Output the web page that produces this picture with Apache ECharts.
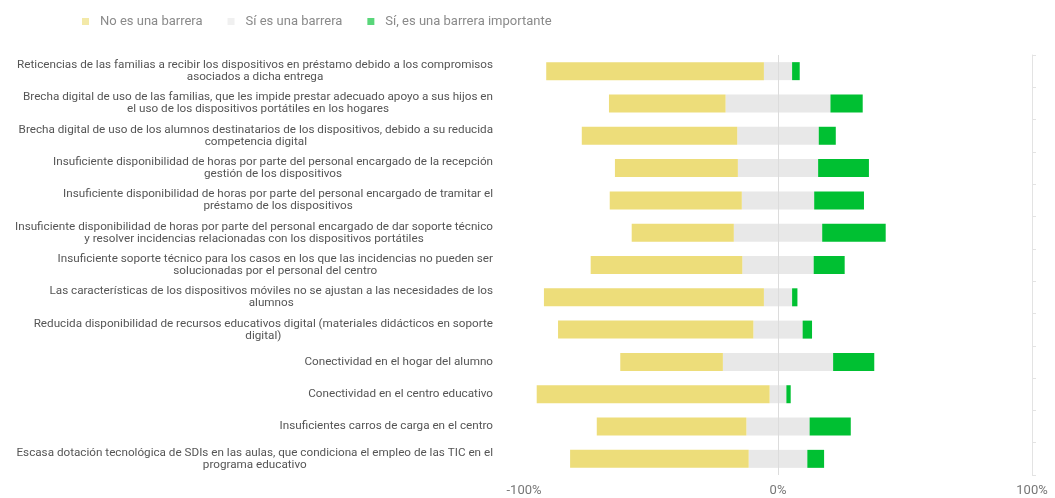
<!DOCTYPE html>
<html>
<head>
<meta charset="utf-8">
<script src="https://cdn.jsdelivr.net/npm/echarts@6/dist/echarts.min.js"></script>
<style>
html,body{margin:0;padding:0;background:#fff;}
#chart{width:1055px;height:498px;}
</style>
</head>
<body>
<div id="chart"></div>
<script>
const categories = [
  "Reticencias de las familias a recibir los dispositivos en préstamo debido a los compromisos\nasociados a dicha entrega",
  "Brecha digital de uso de las familias, que les impide prestar adecuado apoyo a sus hijos en\nel uso de los dispositivos portátiles en los hogares",
  "Brecha digital de uso de los alumnos destinatarios de los dispositivos, debido a su reducida\ncompetencia digital",
  "Insuficiente disponibilidad de horas por parte del personal encargado de la recepción\ngestión de los dispositivos",
  "Insuficiente disponibilidad de horas por parte del personal encargado de tramitar el\npréstamo de los dispositivos",
  "Insuficiente disponibilidad de horas por parte del personal encargado de dar soporte técnico\ny resolver incidencias relacionadas con los dispositivos portátiles",
  "Insuficiente soporte técnico para los casos en los que las incidencias no pueden ser\nsolucionadas por el personal del centro",
  "Las características de los dispositivos móviles no se ajustan a las necesidades de los\nalumnos",
  "Reducida disponibilidad de recursos educativos digital (materiales didácticos en soporte\ndigital)",
  "Conectividad en el hogar del alumno",
  "Conectividad en el centro educativo",
  "Insuficientes carros de carga en el centro",
  "Escasa dotación tecnológica de SDIs en las aulas, que condiciona el empleo de las TIC en el\nprograma educativo"
];
const noBarrera    = [85.7, 45.9, 61.2, 48.4, 52.0, 40.2, 59.7, 86.6, 76.9, 40.4, 91.7, 58.9, 70.3];
const siBarrera    = [11.1, 41.3, 32.1, 31.6, 28.5, 34.8, 28.1, 11.1, 19.4, 43.4, 6.6, 24.9, 23.1];
const siImportante = [3.0, 12.7, 6.7, 20.0, 19.6, 25.0, 12.2, 2.1, 3.7, 16.2, 1.7, 16.2, 6.6];
const xTicks = { min: -100, max: 100, interval: 100 };
const seriesNames = ["No es una barrera", "Sí es una barrera", "Sí, es una barrera importante"];
const colors = { no: "#EDDD7A", si: "#E8E8E8", imp: "#00C032" };

const chart = echarts.init(document.getElementById('chart'), null, { renderer: 'canvas' });
const barW = 18;
const common = { type: 'bar', stack: 'total', barWidth: barW, yAxisIndex: 0 };
const labelFont = 11.7;
const option = {
  animation: false,
  backgroundColor: '#fff',
  textStyle: { fontFamily: 'Roboto' },
  legend: {
    data: seriesNames,
    left: 77, top: 10,
    itemWidth: 7, itemHeight: 7, itemGap: 25,
    icon: 'rect',
    textStyle: { color: '#8a8a8a', fontSize: 13, fontFamily: 'Roboto', padding: [0, 0, 0, 6] },
    itemStyle: { opacity: 0.65 }
  },
  grid: { left: 524, right: 23, top: 55, bottom: 23, containLabel: false },
  xAxis: {
    type: 'value', min: xTicks.min, max: xTicks.max, interval: xTicks.interval,
    axisLine: { show: false }, axisTick: { show: false }, splitLine: { show: false },
    axisLabel: { formatter: '{value}%', color: '#777', fontSize: 13, margin: 9, fontFamily: 'Roboto' }
  },
  yAxis: [
    {
      type: 'category', data: categories, inverse: true,
      axisLine: { show: false }, axisTick: { show: false },
      axisLabel: {
        margin: 31, color: '#555', fontSize: labelFont, lineHeight: 12, fontFamily: 'Roboto',
        formatter: function (v) { return v.split('\n').map(function (l) { return '{c|' + l + '}'; }).join('\n'); },
        rich: { c: { align: 'center', color: '#555', fontSize: labelFont, lineHeight: 12, fontFamily: 'Roboto' } }
      }
    },
    {
      type: 'category', data: categories, inverse: true, position: 'right',
      axisLine: { show: true, lineStyle: { color: '#e3e3e3' } },
      axisTick: { show: true, length: 4, lineStyle: { color: '#e3e3e3' } },
      axisLabel: { show: false }
    }
  ],
  series: [
    Object.assign({}, common, {
      name: seriesNames[1], data: siBarrera.map(v => -v / 2),
      itemStyle: { color: colors.si },
      markLine: {
        silent: true, symbol: 'none', label: { show: false },
        lineStyle: { color: '#dcdcdc', type: 'solid', width: 1 },
        data: [{ xAxis: 0 }]
      }
    }),
    Object.assign({}, common, {
      name: seriesNames[1], data: siBarrera.map(v => v / 2),
      itemStyle: { color: colors.si }
    }),
    Object.assign({}, common, {
      name: seriesNames[0], data: noBarrera.map(v => -v),
      itemStyle: { color: colors.no }
    }),
    Object.assign({}, common, {
      name: seriesNames[2], data: siImportante,
      itemStyle: { color: colors.imp }
    })
  ]
};
chart.setOption(option);
</script>
</body>
</html>
